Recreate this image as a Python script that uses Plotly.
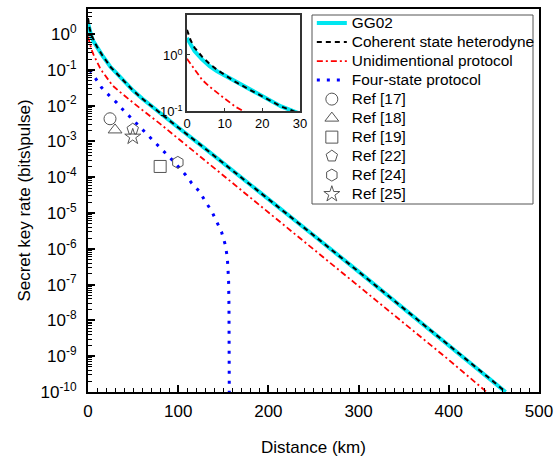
import math
import plotly.graph_objects as go

# ---------------- data ----------------
dist_gg02 = [0, 1, 2, 4, 6, 8, 10, 13, 16, 20, 25, 30, 40, 50, 60, 70, 80, 100, 125, 150,
             200, 250, 300, 350, 400, 450, 463]
rate_gg02 = [2.0, 1.5, 1.17, 0.83, 0.63, 0.51, 0.43, 0.32, 0.25, 0.182, 0.12, 0.089,
             0.0468, 0.0263, 0.0158, 9.8e-3, 6.2e-3, 2.45e-3, 7.9e-4, 2.5e-4,
             2.5e-5, 2.4e-6, 2.3e-7, 2.19e-8, 2.04e-9, 1.91e-10, 1.0e-10]

dist_het = [0, 1, 2, 4, 6, 8, 10, 13, 16, 20, 25, 30, 40, 50, 60, 70, 80, 100, 125, 150,
            200, 250, 300, 350, 400, 450, 463]
rate_het = [2.8, 1.8, 1.35, 0.93, 0.69, 0.54, 0.44, 0.325, 0.252, 0.182, 0.12, 0.089,
            0.0468, 0.0263, 0.0158, 9.8e-3, 6.2e-3, 2.45e-3, 7.9e-4, 2.5e-4,
            2.5e-5, 2.4e-6, 2.3e-7, 2.19e-8, 2.04e-9, 1.91e-10, 1.0e-10]

dist_uni = [0, 1, 2, 4, 6, 8, 10, 13, 16, 20, 27, 35, 42, 50, 60, 80, 100, 150, 200, 250,
            300, 350, 400, 442]
rate_uni = [0.85, 0.68, 0.54, 0.36, 0.27, 0.21, 0.166, 0.117, 0.089, 0.063, 0.037,
            0.0245, 0.0175, 0.0118, 7.6e-3, 3.1e-3, 1.2e-3, 1.15e-4, 1.07e-5, 1.0e-6,
            9.3e-8, 8.7e-9, 7.9e-10, 1.0e-10]

dist_four = [2, 8, 15, 24, 32, 39, 47, 56, 64, 73, 84, 93, 108, 115, 124, 130, 137,
             143, 148, 152, 154.4, 155.2, 155.9, 156.3, 156.5, 156.6, 156.7]
rate_four = [0.10, 0.058, 0.032, 0.0186, 0.012, 7.6e-3, 4.7e-3, 2.9e-3, 1.74e-3,
             1.0e-3, 5.4e-4, 3.1e-4, 1.17e-4, 6.8e-5, 3.9e-5, 2.1e-5, 1.15e-5,
             5.8e-6, 3.0e-6, 1.35e-6, 6.0e-7, 2.7e-7, 1.26e-7, 2.5e-8, 3.2e-9,
             4.0e-10, 3.0e-11]

ref_names = ["Ref [17]", "Ref [18]", "Ref [19]", "Ref [22]", "Ref [24]", "Ref [25]"]
ref_dist = [24.4, 30, 80, 49.6, 99.6, 49.6]
ref_rate = [4.3e-3, 2.1e-3, 2.0e-4, 2.2e-3, 2.6e-4, 1.35e-3]
ref_symbols = ["circle-open", "triangle-up-open", "square-open", "pentagon-open",
               "hexagon-open", "star-open"]

y_major = [1e-10, 1e-9, 1e-8, 1e-7, 1e-6, 1e-5, 1e-4, 1e-3, 1e-2, 1e-1, 1e0]
y_labels = ["10<sup>-10</sup>", "10<sup>-9</sup>", "10<sup>-8</sup>", "10<sup>-7</sup>",
            "10<sup>-6</sup>", "10<sup>-5</sup>", "10<sup>-4</sup>", "10<sup>-3</sup>",
            "10<sup>-2</sup>", "10<sup>-1</sup>", "10<sup>0</sup>"]
x_major = [0, 100, 200, 300, 400, 500]
inset_x_ticks = [0, 10, 20, 30]
inset_y_ticks = [0.1, 1]
inset_y_labels = ["10<sup>-1</sup>", "10<sup>0</sup>"]

# ---------------- figure ----------------
# page margins are removed in post_script so the 555x460 figure fills the window
FONT = "Arial, Liberation Sans, sans-serif"
CYAN = "rgb(0,230,240)"
LEG = '<span style="font-size:15.4px">%s</span>'

minor_y = [m * 10 ** e for e in range(-10, 1) for m in range(2, 10)]

fig = go.Figure()

def add_lines(xa, ya, show):
    fig.add_trace(go.Scatter(x=dist_gg02, y=rate_gg02, mode="lines", name=LEG % "GG02",
                             line=dict(color=CYAN, width=4), xaxis=xa, yaxis=ya,
                             showlegend=show))
    fig.add_trace(go.Scatter(x=dist_het, y=rate_het, mode="lines",
                             name=LEG % "Coherent state heterodyne",
                             line=dict(color="black", width=2, dash="5px,4px"),
                             xaxis=xa, yaxis=ya, showlegend=show))
    fig.add_trace(go.Scatter(x=dist_uni, y=rate_uni, mode="lines",
                             name=LEG % "Unidimentional protocol",
                             line=dict(color="red", width=1.8, dash="6px,3px,2px,3px"),
                             xaxis=xa, yaxis=ya, showlegend=show))

add_lines("x", "y", True)
fig.add_trace(go.Scatter(x=dist_four, y=rate_four, mode="lines",
                         name=LEG % "Four-state protocol",
                         line=dict(color="blue", width=3, dash="3px,7px")))

for n, xv, yv, s in zip(ref_names, ref_dist, ref_rate, ref_symbols):
    fig.add_trace(go.Scatter(x=[xv], y=[yv], mode="markers", name=LEG % n,
                             marker=dict(symbol=s, size=12, color="#555",
                                         line=dict(width=1, color="#555"))))

# inset
add_lines("x2", "y2", False)

INSET_X0 = 0.2195
annotations = [dict(x=INSET_X0 - 0.005, y=math.log10(v), xref="paper", yref="y2",
                    text=t, showarrow=False, xanchor="right", yanchor="middle",
                    font=dict(size=13, family=FONT, color="black"))
               for v, t in zip(inset_y_ticks, inset_y_labels)]

fig.update_layout(
    width=555, height=460,
    margin=dict(l=88, r=16, t=9, b=68),
    paper_bgcolor="white", plot_bgcolor="white",
    font=dict(family=FONT, color="black"),
    showlegend=True,
    hovermode=False,
    legend=dict(x=0.4963, y=1.001, xanchor="left", yanchor="top",
                bgcolor="rgba(0,0,0,0)", borderwidth=0,
                font=dict(size=12.3, family=FONT), tracegroupgap=0,
                itemwidth=30),
    shapes=[dict(type="rect", xref="paper", yref="paper",
                 x0=(312 - 88) / 451, x1=(533 - 88) / 451,
                 y0=(392 - 204) / 383, y1=(392 - 15) / 383,
                 line=dict(color="#555", width=1), layer="above")],
    annotations=annotations,
    xaxis=dict(range=[0, 500], tickvals=x_major, ticks="inside", ticklen=7,
               tickwidth=1.5, tickcolor="black", automargin=False,
               ticklabelstandoff=3, ticklabeloverflow="allow",
               minor=dict(dtick=10, ticks="inside", ticklen=4, tickcolor="black",
                          tickwidth=1.2, showgrid=False),
               showline=True, linecolor="black", linewidth=2, mirror=True,
               showgrid=False, zeroline=False,
               tickfont=dict(size=17),
               title=dict(text="Distance (km)", font=dict(size=17), standoff=21)),
    yaxis=dict(type="log", range=[-10, 0.7], tickvals=y_major, ticktext=y_labels,
               ticks="inside", ticklen=7, tickwidth=1.5, tickcolor="black",
               automargin=False, ticklabelstandoff=6,
               minor=dict(tickmode="array", tickvals=minor_y, ticks="inside",
                          ticklen=4, tickcolor="black", tickwidth=1.2, showgrid=False),
               showline=True, linecolor="black", linewidth=2, mirror=True,
               showgrid=False, zeroline=False,
               tickfont=dict(size=17),
               title=dict(text="Secret key rate (bits\\pulse)", font=dict(size=17),
                          standoff=6)),
    xaxis2=dict(domain=[INSET_X0, 0.470], anchor="y2", range=[0, 30], automargin=False,
                tickvals=inset_x_ticks, ticks="inside", ticklen=3, tickcolor="#333",
                showline=True, linecolor="#333", linewidth=1.5, mirror=True,
                showgrid=False, zeroline=False, tickfont=dict(size=13)),
    yaxis2=dict(domain=[0.734, 0.984], anchor="x2", type="log", range=[-1, 0.71],
                automargin=False, showticklabels=False,
                tickvals=inset_y_ticks, ticks="inside",
                ticklen=3, tickcolor="#333",
                showline=True, linecolor="#333", linewidth=1.5, mirror=True,
                showgrid=False, zeroline=False),
)

fig.write_html(
    "out.html",
    config={"displayModeBar": False},
    post_script="document.body.style.margin='0px';"
                "document.documentElement.style.overflow='hidden';"
                "document.body.style.overflow='hidden';",
)
